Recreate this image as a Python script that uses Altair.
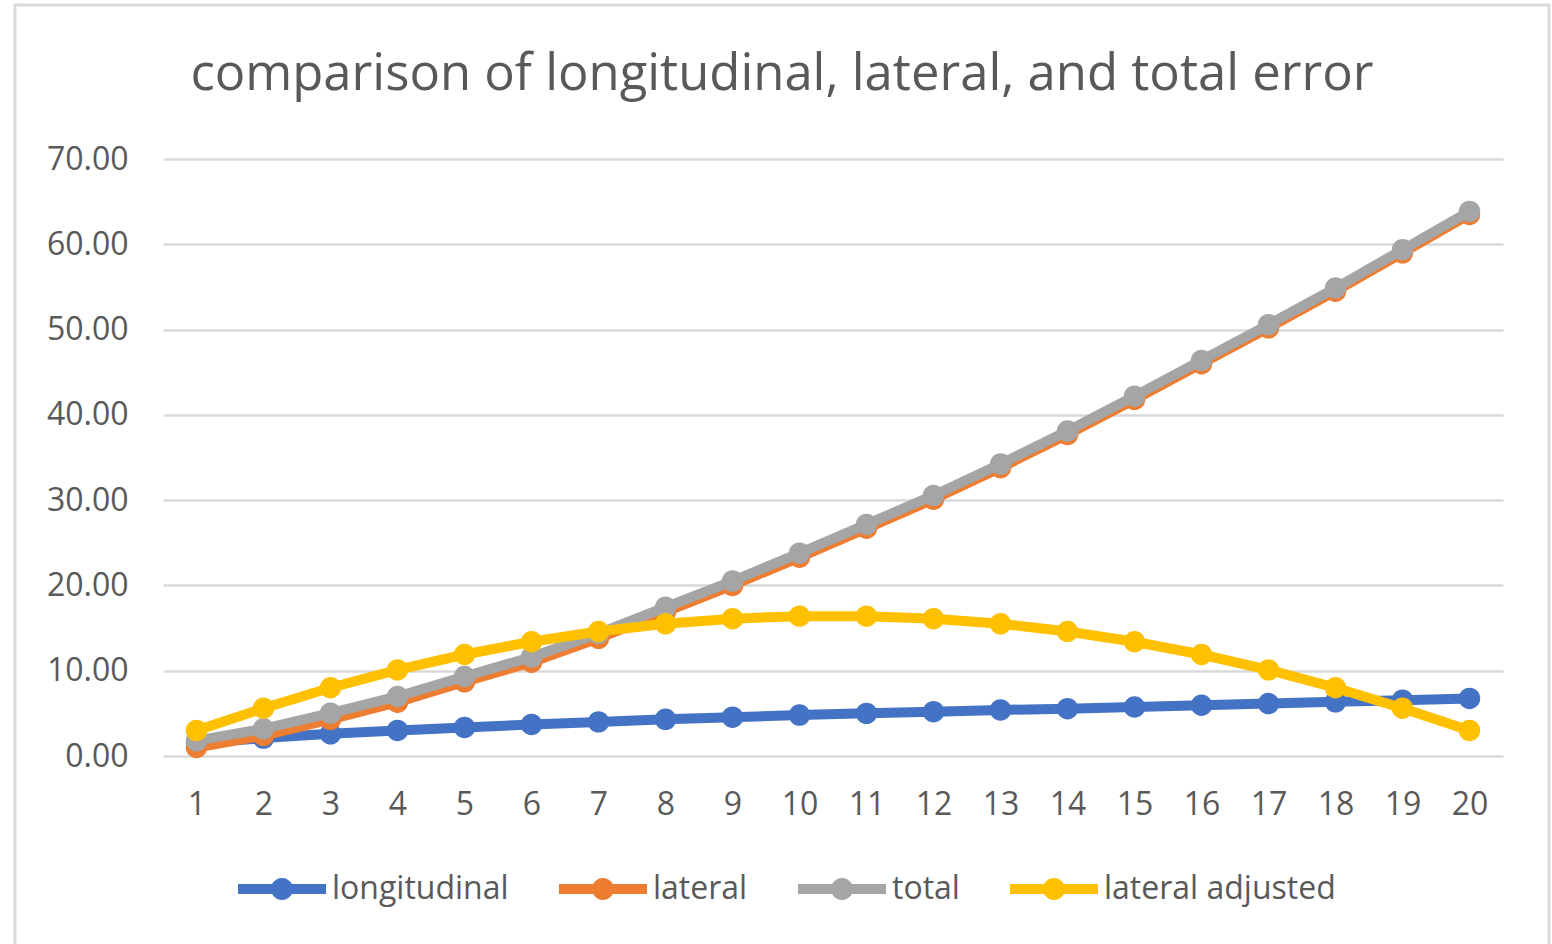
import altair as alt
import pandas as pd

# ---- data ----
steps = list(range(1, 21))
longitudinal = [1.5, 2.1, 2.6, 3.0, 3.35, 3.7, 4.0, 4.3, 4.55, 4.8,
                5.0, 5.2, 5.4, 5.55, 5.75, 5.95, 6.15, 6.35, 6.55, 6.75]
lateral = [1.0, 2.4, 4.3, 6.3, 8.7, 11.0, 13.8, 16.9, 20.0, 23.3,
           26.7, 30.1, 33.8, 37.7, 41.8, 46.0, 50.2, 54.5, 59.0, 63.5]
total = [1.8, 3.19, 5.02, 6.98, 9.32, 11.61, 14.37, 17.44, 20.51, 23.79,
         27.16, 30.55, 34.23, 38.11, 42.19, 46.38, 50.58, 54.87, 59.36, 63.86]
lateral_adjusted = [3.0, 5.6, 8.0, 10.1, 11.9, 13.4, 14.6, 15.5, 16.1, 16.4,
                    16.4, 16.1, 15.5, 14.6, 13.4, 11.9, 10.1, 8.0, 5.6, 3.0]

series_names = ["longitudinal", "lateral", "total", "lateral adjusted"]
series_colors = ["#4472C4", "#ED7D31", "#A5A5A5", "#FFC000"]
y_ticks = [0, 10, 20, 30, 40, 50, 60, 70]
title_text = "comparison of longitudinal, lateral, and total error"

rows = []
for name, vals in zip(series_names, [longitudinal, lateral, total, lateral_adjusted]):
    for s, v in zip(steps, vals):
        rows.append({"step": s, "value": v, "series": name})
df = pd.DataFrame(rows)

FONT = "Open Sans"
TXT = "#595959"
GRID = "#D9D9D9"

legend_path = ("M-1,-0.114L1,-0.114L1,0.114L-1,0.114Z "
               "M0.25,0A0.25,0.25,0,1,1,-0.25,0A0.25,0.25,0,1,1,0.25,0Z")

legend = alt.Legend(
    title=None, orient="none", legendX=75, legendY=686,
    direction="horizontal", columns=4,
    symbolType=legend_path, symbolSize=7744, symbolStrokeWidth=0,
    symbolFillColor=None, labelFontSize=32, labelFont=FONT,
    labelColor=TXT, labelOffset=6, columnPadding=50, labelLimit=600)

x_enc = alt.X("step:O", scale=alt.Scale(type="point", padding=0.5),
              axis=alt.Axis(title=None, labelAngle=0, domain=False, ticks=False,
                            grid=False, labelFontSize=32, labelFont=FONT,
                            labelColor=TXT, labelPadding=33))
y_enc = alt.Y("value:Q", scale=alt.Scale(domain=[0, 70], nice=False),
              axis=alt.Axis(title=None, values=y_ticks, format=".2f", domain=False,
                            ticks=False, grid=True, gridColor=GRID, gridWidth=2.5,
                            labelFontSize=32, labelFont=FONT, labelColor=TXT,
                            labelPadding=35))
color_scale = alt.Scale(domain=series_names, range=series_colors)
color_enc = alt.Color("series:N", scale=color_scale, legend=legend)

base = alt.Chart(df)
layers = []
for name in series_names:
    sub = base.transform_filter(alt.datum.series == name)
    line = sub.mark_line(strokeWidth=10).encode(x=x_enc, y=y_enc, color=color_enc)
    pts = sub.mark_point(filled=True, size=460, opacity=1).encode(
        x=x_enc, y=y_enc, color=color_enc)
    layers += [line, pts]

border = alt.Chart(pd.DataFrame({"a": [0]})).mark_rect(
    fill="white", fillOpacity=0, stroke=GRID, strokeWidth=3).encode(
    x=alt.value(-148), x2=alt.value(1386), y=alt.value(-154), y2=alt.value(830))

chart = alt.layer(border, *layers).properties(
    width=1340, height=597,
    title=alt.TitleParams(title_text, fontSize=50.8, font=FONT, color=TXT,
                          fontWeight="normal", anchor="middle", frame="group",
                          baseline="alphabetic", dx=-51, dy=137, offset=0),
    autosize=alt.AutoSizeParams(type="none"),
    padding={"left": 163, "top": 159, "right": 49, "bottom": 188},
    background="white",
).configure_view(stroke=None)

chart.save("out.html", embed_options={"renderer": "svg", "actions": False})
